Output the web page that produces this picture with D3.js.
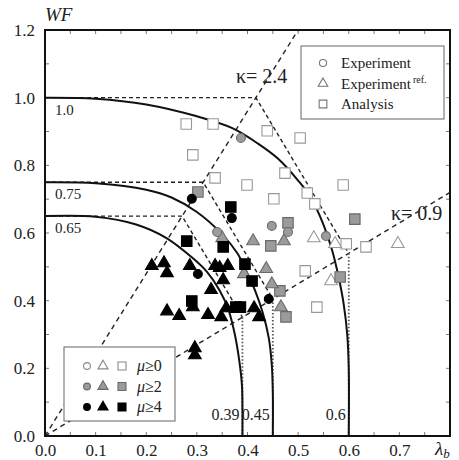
<!DOCTYPE html>
<html lang="en">
<head>
<meta charset="utf-8">
<script src="https://d3js.org/d3.v7.min.js"></script>
<style>
body { margin: 0; background: #fff; }
svg text { font-family: "Liberation Serif", "Times New Roman", "DejaVu Serif", serif; fill: #222; }
</style>
</head>
<body>
<script>
// ---- data ----
var xTicks = [0, 0.1, 0.2, 0.3, 0.4, 0.5, 0.6, 0.7];
var yTicks = [0, 0.2, 0.4, 0.6, 0.8, 1.0, 1.2];

var wfLevels = [1.0, 0.75, 0.65];      // WF at lambda = 0
var lamLevels = [0.6, 0.45, 0.39];     // lambda at WF = 0
var kappas = [2.4, 0.9];

// envelope curves (read points)
var curve100 = [[0,1.0],[0.1,0.997],[0.2,0.98],[0.3,0.945],[0.37,0.91],[0.42,0.865],[0.46,0.82],[0.5,0.755],[0.525,0.705],[0.55,0.625],[0.567,0.55],[0.58,0.47],[0.59,0.39],[0.597,0.3],[0.6,0.2],[0.6,0]];
var curve075 = [[0,0.75],[0.1,0.747],[0.2,0.728],[0.25,0.705],[0.3,0.662],[0.35,0.596],[0.38,0.54],[0.4,0.48],[0.415,0.43],[0.43,0.365],[0.442,0.29],[0.448,0.21],[0.45,0.13],[0.45,0]];
var curve065 = [[0,0.65],[0.1,0.648],[0.18,0.625],[0.24,0.585],[0.29,0.528],[0.32,0.485],[0.345,0.43],[0.362,0.375],[0.375,0.3],[0.384,0.22],[0.389,0.15],[0.39,0.08],[0.39,0]];

// measured points: Experiment (circle), Experiment ref. (triangle), Analysis (square)
var expMu2 = [[0.387,0.881],[0.34,0.603],[0.448,0.621],[0.48,0.603],[0.555,0.591]];
var expMu4 = [[0.29,0.701],[0.369,0.644],[0.302,0.479],[0.442,0.405]];

var refMu0 = [[0.531,0.585],[0.573,0.568],[0.697,0.568],[0.565,0.458]];
var refMu2 = [[0.35,0.585],[0.411,0.576],[0.472,0.576],[0.393,0.479],[0.437,0.494],[0.448,0.449],[0.466,0.381]];
var refMu4 = [[0.211,0.503],[0.235,0.511],[0.241,0.482],[0.286,0.503],[0.336,0.503],[0.345,0.497],[0.361,0.503],[0.352,0.461],[0.328,0.432],[0.292,0.381],[0.241,0.369],[0.265,0.355],[0.322,0.358],[0.348,0.352],[0.358,0.378],[0.413,0.378],[0.423,0.352],[0.296,0.26],[0.296,0.239]];

var anaMu0 = [[0.279,0.922],[0.332,0.922],[0.439,0.902],[0.504,0.881],[0.292,0.831],[0.336,0.763],[0.399,0.742],[0.474,0.777],[0.589,0.742],[0.452,0.701],[0.518,0.718],[0.533,0.686],[0.595,0.568],[0.634,0.559],[0.514,0.488],[0.537,0.381]];
var anaMu2 = [[0.302,0.721],[0.48,0.63],[0.612,0.641],[0.446,0.562],[0.464,0.429],[0.476,0.352],[0.583,0.47]];
var anaMu4 = [[0.367,0.677],[0.28,0.576],[0.352,0.559],[0.395,0.508],[0.409,0.458],[0.29,0.399],[0.377,0.381],[0.386,0.381]];

var typeNames = ["Experiment", "Experiment", "Analysis"];
var muNames = ["0", "2", "4"];

// ---- chart ----
var width = 459, height = 460;
var serif = "'Liberation Serif', 'Times New Roman', 'DejaVu Serif', serif";

var svg = d3.select("body").append("svg")
    .attr("width", width)
    .attr("height", height)
    .style("font-family", serif);

var x = d3.scaleLinear().domain([0, 0.8]).range([45, 450]);
var y = d3.scaleLinear().domain([0, 1.2]).range([436, 30]);

var styles = {
    "0": {fill: "#fff", stroke: "#999"},
    "2": {fill: "#9b9b9b", stroke: "#6a6a6a"},
    "4": {fill: "#000", stroke: "#000"}
};
var shapes = {circle: d3.symbolCircle, tri: d3.symbolTriangle, sq: d3.symbolSquare};
var sizes = {circle: 62, tri: 70, sq: 110};

// inward ticks
var minorX = d3.range(0, 0.801, 0.05), minorY = d3.range(0, 1.201, 0.1);
var ticks = svg.append("g").attr("stroke", "#777").attr("stroke-width", 1);
minorX.forEach(function(v) {
    ticks.append("line").attr("x1", x(v)).attr("x2", x(v)).attr("y1", y(0)).attr("y2", y(0) - 4);
    ticks.append("line").attr("x1", x(v)).attr("x2", x(v)).attr("y1", y(1.2)).attr("y2", y(1.2) + 4);
});
minorY.forEach(function(v) {
    ticks.append("line").attr("x1", x(0)).attr("x2", x(0) + 4).attr("y1", y(v)).attr("y2", y(v));
    ticks.append("line").attr("x1", x(0.8)).attr("x2", x(0.8) - 4).attr("y1", y(v)).attr("y2", y(v));
});

// kappa lines through the origin
var kLines = svg.append("g")
    .attr("stroke", "#222").attr("stroke-width", 1.4)
    .attr("stroke-dasharray", "5,4").attr("fill", "none");
kappas.forEach(function(k) {
    var xe = Math.min(0.8, 1.2 / k);
    kLines.append("line")
        .attr("x1", x(0)).attr("y1", y(0))
        .attr("x2", x(xe)).attr("y2", y(k * xe));
});

// dashed envelope polygons
var env = svg.append("g").attr("fill", "none");
wfLevels.forEach(function(wf, i) {
    var lam = lamLevels[i];
    var xa = wf / kappas[0];
    var yb = kappas[1] * lam;
    env.append("path")
        .attr("d", d3.line()([[x(0), y(wf)], [x(xa), y(wf)], [x(lam), y(yb)]]))
        .attr("stroke", "#222").attr("stroke-width", 1.4)
        .attr("stroke-dasharray", "4,3");
    env.append("line")
        .attr("x1", x(lam)).attr("x2", x(lam))
        .attr("y1", y(yb)).attr("y2", y(0))
        .attr("stroke", "#555").attr("stroke-width", 1.8)
        .attr("stroke-dasharray", "1.5,2");
});

// solid curves
var line = d3.line()
    .x(function(d) { return x(d[0]); })
    .y(function(d) { return y(d[1]); })
    .curve(d3.curveCatmullRom.alpha(0.5));
[curve100, curve075, curve065].forEach(function(c) {
    svg.append("path").attr("d", line(c))
        .attr("fill", "none").attr("stroke", "#111").attr("stroke-width", 2);
});

// markers
function drawPoints(data, shape, mu) {
    svg.append("g").selectAll("path")
        .data(data)
        .enter().append("path")
        .attr("d", d3.symbol().type(shapes[shape]).size(sizes[shape]))
        .attr("transform", function(d) { return "translate(" + x(d[0]) + "," + y(d[1]) + ")"; })
        .attr("fill", styles[mu].fill)
        .attr("stroke", styles[mu].stroke)
        .attr("stroke-width", 1.1);
}
drawPoints(anaMu0, "sq", "0");
drawPoints(refMu0, "tri", "0");
drawPoints(anaMu2, "sq", "2");
drawPoints(refMu2, "tri", "2");
drawPoints(expMu2, "circle", "2");
drawPoints(anaMu4, "sq", "4");
drawPoints(refMu4, "tri", "4");
drawPoints(expMu4, "circle", "4");

// curve labels
wfLevels.forEach(function(wf, i) {
    svg.append("text")
        .attr("x", x(0) + 10).attr("y", y(wf) + 17)
        .style("font-size", "15px")
        .text(d3.format(i == 0 ? ".1f" : ".2f")(wf));
    svg.append("text")
        .attr("x", x(lamLevels[i]) - 3).attr("y", 420)
        .attr("text-anchor", "end")
        .style("font-size", "16px")
        .text(String(lamLevels[i]));
});

// kappa labels
svg.append("text").attr("x", 236).attr("y", 83).style("font-size", "20px")
    .text("\u03ba= " + kappas[0]);
svg.append("text").attr("x", 391).attr("y", 220).style("font-size", "20px")
    .text("\u03ba= " + kappas[1]);

// axes labels via d3 axes
var gx = svg.append("g").attr("transform", "translate(0," + y(0) + ")")
    .call(d3.axisBottom(x).tickValues(xTicks).tickFormat(d3.format(".1f")).tickSize(0).tickPadding(8));
var gy = svg.append("g").attr("transform", "translate(" + x(0) + ",0)")
    .call(d3.axisLeft(y).tickValues(yTicks).tickFormat(d3.format(".1f")).tickSize(0).tickPadding(10));
[gx, gy].forEach(function(g) {
    g.select(".domain").remove();
    g.attr("font-family", serif).attr("font-size", "17px");
    g.selectAll("text").style("font-family", serif).style("font-size", "17px").attr("fill", "#333");
});

svg.append("text").attr("x", 45).attr("y", 21)
    .style("font-size", "19px").style("font-style", "italic").text("WF");
var lb = svg.append("text").attr("x", 435).attr("y", 455)
    .style("font-size", "19px").style("font-style", "italic");
lb.append("tspan").text("\u03bb");
lb.append("tspan").attr("dy", 3).style("font-size", "13px").text("b");

// legend: type
var leg1 = svg.append("g");
leg1.append("rect").attr("x", 301).attr("y", 46).attr("width", 143).attr("height", 73)
    .attr("fill", "#fff").attr("stroke", "#666").attr("stroke-width", 1);
["circle", "tri", "sq"].forEach(function(s, i) {
    var yy = 63 + i * 20.5;
    leg1.append("path")
        .attr("d", d3.symbol().type(shapes[s]).size(s == "sq" ? 60 : 40))
        .attr("transform", "translate(323," + yy + ")")
        .attr("fill", "#fff").attr("stroke", "#777").attr("stroke-width", 1.1);
    var t = leg1.append("text").attr("x", 341).attr("y", yy + 5)
        .style("font-size", "15px").text(typeNames[i]);
    if (i == 1) t.append("tspan").attr("dx", 2).attr("dy", -6).style("font-size", "10px").text("ref.");
});

// legend: mu
var leg2 = svg.append("g");
leg2.append("rect").attr("x", 64).attr("y", 347).attr("width", 111).attr("height", 74)
    .attr("fill", "#fff").attr("stroke", "#666").attr("stroke-width", 1);
muNames.forEach(function(m, i) {
    var yy = 366 + i * 20.5;
    [["circle", 87, 36], ["tri", 103, 44], ["sq", 122, 64]].forEach(function(s) {
        leg2.append("path")
            .attr("d", d3.symbol().type(shapes[s[0]]).size(s[2]))
            .attr("transform", "translate(" + s[1] + "," + yy + ")")
            .attr("fill", styles[m].fill)
            .attr("stroke", m == "0" ? "#888" : styles[m].stroke)
            .attr("stroke-width", 1.1);
    });
    var t = leg2.append("text").attr("x", 137).attr("y", yy + 5).style("font-size", "16px");
    t.append("tspan").style("font-style", "italic").text("\u03bc");
    t.append("tspan").text("\u2265" + m);
});

// frame
svg.append("rect")
    .attr("x", x(0)).attr("y", y(1.2))
    .attr("width", x(0.8) - x(0)).attr("height", y(0) - y(1.2))
    .attr("fill", "none").attr("stroke", "#111").attr("stroke-width", 2);
</script>
</body>
</html>
